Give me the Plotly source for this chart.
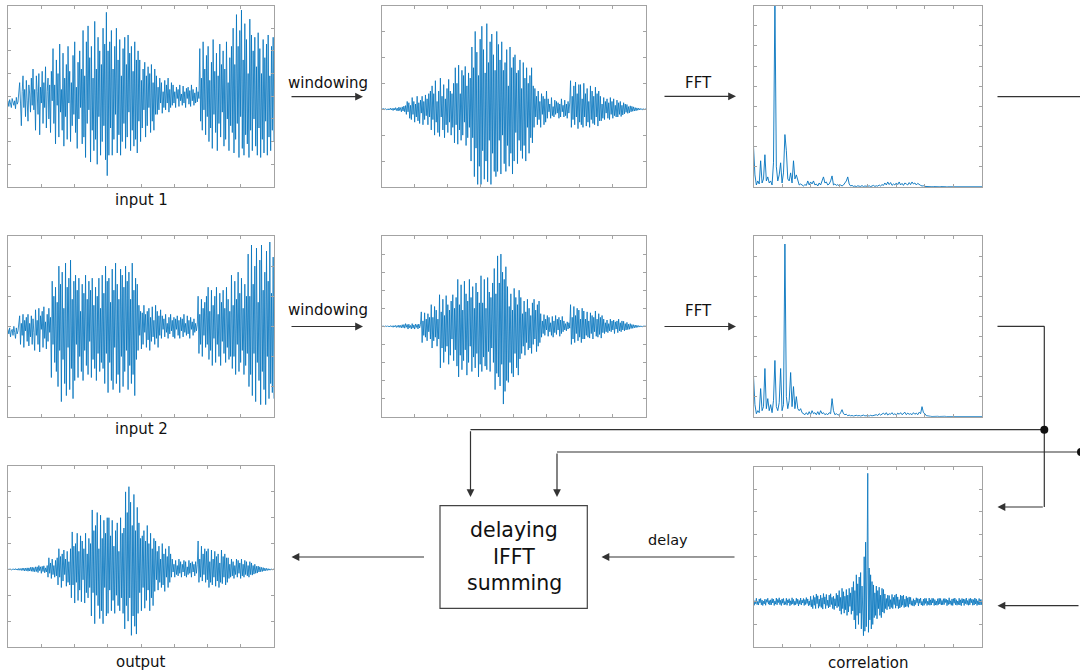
import numpy as np
import plotly.graph_objects as go

W, H = 1080, 671

# ---------------- data ----------------
input1 = [-0.2,-0.45,-0.15,-0.35,-0.5,-0.1,-0.3,-0.4,-0.2,-0.55,-0.05,-0.35,-0.25,0.1,
          0.6,-0.3,-1.3,0.2,0.9,-0.5,0.3,-0.9,0.7,-0.2,-1.1,0.5,0.1,-0.7,0.8,-0.4,
          1.2,-0.6,0.3,-1.5,0.9,0.2,-0.8,1.0,-1.7,0.4,-0.3,1.1,-1.2,0.6,-0.5,1.3,-1.4,0.2,0.8,-1.0,0.5,-1.6,1.1,-0.2,
          2.1,-1.2,0.5,-2.1,1.6,-0.4,1.0,-1.8,2.3,-0.7,0.3,-1.5,1.9,-2.2,0.8,-0.9,1.4,-1.9,2.2,-0.3,1.1,-2.0,0.6,-1.3,
          1.8,-0.8,2.4,-1.6,0.4,-2.3,1.5,-1.0,2.0,-0.5,1.2,-2.1,
          2.9,-1.8,0.9,-2.7,2.4,-1.2,3.1,-0.6,1.7,-2.9,2.2,-1.5,0.8,-2.4,3.3,-1.9,1.2,-3.0,2.6,-0.9,2.0,-2.6,1.4,-2.0,
          3.0,-1.3,2.3,-2.8,
          3.7,-3.5,2.0,-2.6,
          2.4,-1.4,2.9,-2.6,1.2,-1.9,2.2,-0.8,3.0,-2.5,1.6,-1.7,2.5,-2.6,0.9,-2.0,2.1,-1.2,2.6,-2.3,1.4,-1.8,2.7,-0.7,
          1.9,-2.4,2.2,-1.5,1.1,-2.2,2.4,-1.9,1.6,-2.5,2.0,-1.1,
          1.6,-2.0,0.7,-1.4,1.2,-0.6,1.5,-1.8,0.9,-1.3,1.3,-0.5,1.0,-1.6,1.4,-1.1,0.6,-1.5,1.2,-0.8,
          0.9,-0.8,0.4,-0.6,0.8,-0.3,0.6,-0.75,0.2,-0.5,0.7,-0.6,0.5,-0.3,0.8,-0.7,0.3,-0.5,0.6,-0.4,
          0.5,-0.3,0.2,-0.5,0.4,-0.1,0.3,-0.45,0.5,-0.2,0.1,-0.4,0.45,-0.3,0.2,-0.5,0.35,-0.1,0.4,-0.35,0.25,-0.45,
          0.5,-0.2,0.3,-0.4,0.15,-0.3,0.4,-0.25,0.2,-0.1,
          2.1,-1.1,0.8,-1.5,2.4,-0.6,1.2,-1.7,1.8,-0.9,2.2,-2.0,0.7,-1.4,1.5,-2.3,2.5,-0.8,1.1,-1.6,1.9,-2.4,0.9,-1.2,
          2.3,-1.8,1.4,-0.7,2.0,-2.2,1.2,-1.9,2.4,-1.0,0.6,-2.4,1.7,-1.3,2.2,-1.6,
          3.0,-2.5,1.4,-1.9,3.6,-1.2,2.2,-2.7,2.9,-0.9,3.8,-2.3,1.6,-2.6,3.2,-1.7,2.5,-2.1,1.0,-2.7,3.4,-1.5,2.7,-2.4,
          2.0,-1.0,
          2.6,-2.2,1.3,-2.6,2.8,-1.4,2.1,-2.7,1.0,-1.9,2.5,-2.5,1.7,-1.1,2.3,-2.6,2.7,-1.8,0.9,-2.4,2.2,-1.5,2.6,-2.0]

windowed1 = [0.0,0.01,-0.01,0.02,-0.01,0.02,-0.02,0.01,-0.03,0.02,-0.02,0.04,-0.03,0.03,-0.05,0.04,-0.03,0.06,
             -0.05,0.04,-0.07,0.08,-0.05,0.06,-0.1,0.09,-0.07,0.12,-0.1,0.14,
             -0.2,0.3,-0.1,0.25,-0.35,0.15,-0.4,0.45,-0.2,0.3,-0.5,0.2,-0.3,0.5,-0.45,0.25,-0.55,0.35,-0.15,0.5,
             -0.6,0.3,-0.4,0.55,-0.25,0.4,-0.6,0.6,-0.3,0.7,
             -0.8,0.9,-0.4,0.6,-1.0,1.1,-0.5,0.3,-0.9,0.7,-1.05,1.2,-0.3,0.5,-0.8,0.95,-1.1,0.4,-0.6,0.8,
             -0.9,1.15,-0.5,0.7,-1.0,0.6,-0.7,1.0,
             -1.3,1.6,-0.6,1.0,-1.35,1.7,-0.8,0.6,-1.2,1.5,-1.0,1.3,-0.5,1.65,-1.4,0.9,-1.1,1.4,-0.7,1.2,
             -2.0,2.4,-1.1,1.6,-2.6,3.0,-1.5,2.2,-2.9,1.3,-2.2,2.7,
             -2.9,3.2,-1.6,2.3,-2.7,1.4,-2.0,3.3,-2.8,1.8,-1.2,2.6,-2.9,2.9,-1.7,2.1,-2.4,1.5,-2.6,3.0,
             -2.4,2.5,-1.2,1.9,-2.5,2.6,-1.0,1.5,-2.1,1.8,-2.4,2.3,-1.4,0.9,-2.2,2.4,-1.7,1.6,-2.5,2.0,
             -2.0,2.1,-0.9,1.4,-2.1,1.5,-1.2,1.9,-1.6,0.8,-1.9,1.8,-1.4,1.2,-2.0,1.6,-0.7,1.0,-1.7,1.3,
             -1.1,1.6,-1.3,0.9,
             -0.7,0.8,-0.3,0.5,-0.6,0.7,-0.4,0.3,-0.7,0.6,-0.2,0.5,-0.6,0.4,-0.5,0.7,
             -0.35,0.4,-0.1,0.2,-0.35,0.45,-0.25,0.1,-0.3,0.35,-0.2,0.3,-0.15,0.25,-0.35,0.2,-0.3,0.4,-0.1,0.15,
             -0.3,0.35,-0.25,0.2,-0.35,0.3,-0.15,0.25,
             1.1,-0.7,0.5,-0.4,0.9,-0.6,1.05,-0.3,0.6,-0.75,0.95,-0.5,
             0.95,-0.6,0.4,-0.7,1.0,-0.3,0.6,-0.65,0.8,-0.5,0.3,-0.7,0.9,-0.4,0.7,-0.55,0.5,-0.6,0.85,-0.3,
             0.6,-0.65,0.7,-0.45,
             0.5,-0.45,0.2,-0.35,0.45,-0.4,0.3,-0.15,0.4,-0.35,0.25,-0.4,0.45,-0.2,0.3,-0.35,0.4,-0.25,0.15,-0.3,
             0.35,-0.3,0.25,-0.2,
             0.3,-0.28,0.15,-0.22,0.25,-0.18,0.2,-0.12,0.18,-0.16,0.1,-0.14,0.13,-0.1,0.11,-0.08,0.09,-0.07,0.06,-0.06,
             0.05,-0.04,0.04,-0.03,0.03,-0.02,0.02,-0.02,0.01,-0.01,0.01,0.0]

fft1 = [2.0,0.6,0.1,0.3,0.15,1.3,0.2,0.4,1.6,0.3,
        0.5,0.2,0.3,0.1,1.2,9.3,1.0,0.3,0.6,1.2,
        0.2,0.7,2.6,1.8,0.4,0.3,0.7,0.2,1.3,0.4,
        0.6,0.3,0.1,0.15,0.1,0.05,0.12,0.08,0.3,0.1,
        0.25,0.15,0.3,0.1,0.15,0.05,0.2,0.1,0.3,0.5,
        0.2,0.25,0.1,0.15,0.3,0.55,0.1,0.15,0.08,0.12,
        0.05,0.1,0.05,0.1,0.2,0.3,0.5,0.15,0.05,0.08,
        0.03,0.05,0.02,0.06,0.04,0.03,0.07,0.02,0.05,0.04,
        0.03,0.06,0.02,0.05,0.08,0.03,0.06,0.04,0.1,0.05,
        0.12,0.08,0.2,0.1,0.25,0.12,0.22,0.08,0.15,0.1,
        0.2,0.12,0.25,0.1,0.18,0.08,0.2,0.15,0.1,0.22,
        0.12,0.25,0.15,0.2,0.1,0.18,0.12,0.08,0.05,0.06,
        0.03,0.02,0.02,0.01,0.02,0.01,0.02,0.01,0.01,0.02,
        0.01,0.02,0.01,0.01,0.02,0.01,0.01,0.01,0.02,0.01,
        0.01,0.01,0.02,0.01,0.01,0.01,0.01,0.02,0.01,0.01,
        0.01,0.01,0.01,0.02,0.01,0.01,0.01,0.01,0.01,0.01,
        0.01]

input2 = [-0.1,-0.25,-0.05,-0.35,-0.15,-0.1,-0.3,0.0,-0.2,-0.4,-0.05,-0.25,-0.15,0.05,
          0.35,-0.6,0.1,-0.3,0.4,-0.7,0.2,-0.15,0.3,-0.5,0.4,-0.65,0.1,-0.35,0.35,-0.6,0.25,-0.2,
          -0.8,0.55,-0.3,0.2,-0.6,0.6,-0.85,0.35,-0.1,0.5,-0.7,0.65,-0.4,0.15,-0.75,0.4,-0.5,0.6,-0.2,0.3,
          -1.7,1.5,-0.6,1.0,-1.2,1.3,-1.5,0.8,
          -2.0,2.0,-0.8,1.4,-2.5,1.8,-1.1,0.6,-1.9,2.1,-2.3,1.3,-0.7,1.6,-2.1,2.2,-1.4,0.9,-2.4,1.5,
          -1.8,1.7,-0.6,1.2,-1.7,1.6,-1.0,0.5,-1.5,1.4,-1.8,1.1,-0.8,1.7,-1.3,0.9,-1.6,1.5,-0.5,1.2,
          -1.7,1.6,-1.1,0.7,-1.4,1.3,-1.8,1.0,-0.9,1.6,-1.5,0.6,-1.2,1.7,-1.4,1.1,
          -1.9,2.0,-0.9,1.5,-2.2,1.6,-1.2,0.8,-1.8,1.9,-2.1,1.2,-0.7,2.1,-1.9,1.4,-1.6,0.9,-2.2,1.9,
          -1.0,1.7,-2.0,1.3,-1.5,2.0,-0.8,1.5,-2.1,1.8,-1.3,0.9,-1.9,2.1,-1.6,1.2,-2.3,1.6,-1.1,1.4,
          -0.8,0.7,-0.3,0.5,-0.75,0.45,-0.6,0.7,-0.2,0.4,-0.7,0.5,-0.45,0.6,-0.8,0.3,-0.5,0.65,-0.35,0.2,
          -0.6,0.7,-0.4,0.5,-0.7,0.35,-0.3,0.55,
          -0.4,0.35,-0.1,0.25,-0.35,0.4,-0.2,0.1,-0.4,0.3,-0.25,0.4,-0.15,0.2,-0.35,0.3,-0.4,0.25,-0.1,0.35,
          -0.3,0.2,-0.4,0.3,-0.15,0.25,-0.35,0.4,-0.2,0.1,-0.3,0.35,-0.25,0.2,-0.4,0.3,-0.1,0.15,-0.3,0.25,
          -0.2,0.1,-0.15,0.05,
          1.0,-0.9,0.4,-0.6,0.9,-1.0,0.6,-0.3,0.8,-0.7,1.0,-0.6,
          1.3,-1.1,0.5,-0.8,1.2,-1.3,0.7,-0.4,1.0,-1.2,1.3,-0.6,0.4,-1.0,1.1,-1.3,0.8,-0.5,1.2,-0.9,
          0.6,-1.2,1.3,-0.7,0.9,-1.1,0.5,-1.0,
          1.7,-1.4,0.7,-1.0,1.5,-1.6,0.9,-0.6,1.8,-1.5,1.1,-1.2,1.6,-0.8,0.6,-1.6,1.4,-1.3,1.0,-0.9,
          2.4,-2.0,1.0,-1.6,2.7,-2.3,1.4,-0.9,2.0,-2.5,2.6,-1.2,0.8,-1.8,2.2,-2.6,2.7,-1.5,1.2,-2.1,
          1.8,-2.6,2.5,-1.0,1.5,-2.4,2.8,-1.9,1.1,-2.2,2.3,-2.4]

windowed2 = [0.0,0.01,-0.01,0.01,-0.02,0.02,-0.01,0.03,-0.02,0.02,-0.03,0.04,-0.02,0.03,-0.05,0.04,-0.03,0.05,
             -0.06,0.04,-0.05,0.07,-0.06,0.05,-0.08,0.09,-0.07,0.1,
             -0.1,0.15,-0.05,0.1,-0.15,0.12,-0.08,0.05,-0.14,0.15,-0.1,0.08,-0.15,0.12,-0.06,0.1,-0.14,0.13,-0.09,0.1,
             0.8,-0.9,0.3,-0.5,0.75,-0.6,0.4,-0.8,0.7,-0.3,0.5,-0.7,
             1.2,-1.2,0.5,-0.8,1.1,-0.6,0.9,-1.1,0.4,-0.7,
             1.75,-2.3,0.8,-1.2,1.5,-2.0,0.6,-1.4,1.7,-1.1,1.2,-2.1,0.9,-1.6,1.4,-0.7,1.75,-1.9,1.0,-1.3,1.6,-2.2,
             2.6,-2.8,1.2,-1.6,2.3,-2.4,0.9,-1.9,2.5,-1.3,1.8,-2.7,1.4,-2.0,2.6,-1.1,1.6,-2.5,2.2,-1.7,
             1.0,-2.3,2.4,-1.5,1.9,-2.8,1.3,-2.1,
             2.8,-2.5,1.3,-1.7,2.6,-2.2,1.0,-2.4,2.7,-1.4,1.9,-2.5,1.6,-1.2,2.4,-2.0,
             3.2,-3.5,1.8,-2.6,3.9,-2.8,2.4,-3.3,4.0,-2.1,3.0,-4.3,2.6,-3.6,3.3,-3.0,
             2.2,-3.1,1.1,-2.0,1.8,-2.6,0.9,-2.8,2.1,-1.5,1.6,-2.3,1.2,-2.7,2.0,-1.8,
             1.6,-1.5,0.7,-1.1,1.4,-1.6,0.8,-0.9,1.5,-1.3,1.0,-1.2,0.6,-1.5,1.3,-1.0,1.5,-0.7,0.9,-1.4,
             1.2,-1.1,1.4,-0.9,
             0.7,-0.6,0.3,-0.4,0.65,-0.5,0.4,-0.2,0.6,-0.55,0.5,-0.3,0.2,-0.5,0.55,-0.6,0.3,-0.35,0.6,-0.45,
             0.4,-0.2,0.5,-0.55,0.35,-0.4,0.55,-0.3,
             0.3,-0.2,0.15,-0.25,0.25,-0.15,0.2,-0.1,
             1.2,-1.0,0.5,-0.7,1.1,-0.9,0.6,-0.4,1.0,-0.8,0.9,-0.6,0.4,-0.9,1.0,-0.7,
             0.85,-0.7,0.4,-0.5,0.8,-0.6,0.3,-0.65,0.75,-0.4,0.6,-0.7,0.5,-0.3,0.85,-0.55,0.4,-0.6,0.7,-0.45,
             0.5,-0.65,0.6,-0.35,
             0.4,-0.4,0.2,-0.3,0.35,-0.35,0.15,-0.25,0.4,-0.3,0.3,-0.2,0.35,-0.4,0.25,-0.15,0.3,-0.35,0.4,-0.25,
             0.2,-0.3,0.3,-0.2,
             0.28,-0.25,0.15,-0.2,0.22,-0.18,0.12,-0.16,0.15,-0.12,0.1,-0.11,0.09,-0.08,0.07,-0.07,0.06,-0.05,
             0.04,-0.04,0.03,-0.03,0.02,-0.02,0.01,-0.01,0.01,0.0]

fft2 = [2.0,0.6,0.15,0.3,0.2,1.4,0.3,0.5,2.4,0.4,
        0.9,0.3,0.6,0.2,0.8,2.8,0.5,0.3,0.7,2.4,
        0.3,0.6,8.6,1.0,0.4,0.8,2.2,0.5,1.5,0.4,
        1.0,0.4,0.3,0.4,0.2,0.15,0.1,0.2,0.1,0.25,
        0.1,0.3,0.15,0.2,0.1,0.25,0.1,0.3,0.15,0.2,
        0.1,0.15,0.1,0.2,0.15,0.9,0.3,0.1,0.15,0.1,
        0.08,0.2,0.35,0.15,0.1,0.12,0.05,0.08,0.04,0.06,
        0.03,0.05,0.07,0.04,0.06,0.03,0.05,0.08,0.04,0.06,
        0.05,0.03,0.07,0.04,0.06,0.05,0.1,0.06,0.15,0.08,
        0.12,0.18,0.1,0.2,0.08,0.15,0.12,0.2,0.1,0.15,
        0.08,0.18,0.12,0.2,0.1,0.15,0.22,0.1,0.18,0.12,
        0.15,0.1,0.2,0.12,0.18,0.1,0.22,0.15,0.5,0.2,
        0.15,0.05,0.03,0.02,0.02,0.01,0.02,0.01,0.01,0.02,
        0.01,0.02,0.01,0.01,0.02,0.01,0.01,0.01,0.02,0.01,
        0.01,0.01,0.02,0.01,0.01,0.01,0.01,0.02,0.01,0.01,
        0.01,0.01,0.01,0.02,0.01,0.01,0.01,0.01,0.01,0.01,
        0.01]

output = [0.0,0.01,-0.01,0.01,-0.02,0.01,-0.01,0.02,-0.02,0.03,-0.02,0.02,-0.03,0.04,-0.03,0.03,-0.04,0.05,
          -0.04,0.05,-0.06,0.05,-0.05,0.06,-0.07,0.06,-0.06,0.08,-0.07,0.09,-0.08,0.07,-0.09,0.1,-0.08,0.1,
          -0.12,0.15,-0.05,0.1,-0.15,0.12,-0.08,0.14,-0.13,0.06,-0.1,0.15,
          -0.3,0.45,-0.15,0.25,-0.35,0.4,-0.2,0.15,-0.3,0.35,-0.25,0.45,
          -0.6,0.8,-0.3,0.5,-0.7,0.6,-0.45,0.75,-0.2,0.4,-0.65,0.7,-0.5,0.3,-0.6,0.8,
          -1.1,1.45,-0.6,0.9,-1.3,1.0,-0.5,1.4,-1.2,0.7,-0.8,1.3,-1.25,1.1,-0.4,0.8,-1.3,1.4,-0.9,0.6,
          -1.1,1.2,-0.7,1.0,
          -1.8,2.3,-0.9,1.5,-2.1,1.7,-1.0,2.2,-1.4,0.8,-1.9,2.1,-1.6,1.2,-2.1,1.9,-0.7,1.4,-1.8,2.0,
          -1.7,2.0,-0.8,1.3,-1.6,1.9,-1.2,0.9,-1.7,1.5,-1.0,1.8,-1.4,0.7,-1.6,2.0,-1.1,1.4,-1.7,1.6,
          -2.3,3.0,-1.4,2.2,-2.0,3.2,-1.1,2.6,-2.55,1.7,-1.8,2.9,-2.2,1.5,-2.5,2.4,
          -1.7,1.8,-0.9,1.2,-1.6,1.3,-0.7,1.5,-1.5,1.1,-1.2,1.7,-0.8,1.0,-1.6,1.4,-1.1,0.8,-1.4,1.2,
          -0.85,1.1,-0.4,0.7,-0.8,0.9,-0.5,0.4,-0.7,1.0,-0.6,0.6,-0.85,0.8,-0.3,0.5,-0.7,0.9,-0.5,0.6,
          -0.3,0.4,-0.1,0.2,-0.3,0.35,-0.2,0.15,-0.25,0.4,-0.15,0.3,-0.3,0.2,-0.1,0.35,-0.25,0.3,-0.3,0.1,
          -0.2,0.35,-0.15,0.25,-0.3,0.3,-0.1,0.2,-0.25,0.3,-0.15,0.2,
          1.1,-0.5,0.4,-0.3,0.9,-0.45,0.6,-0.2,0.8,-0.5,0.7,-0.4,
          0.8,-0.7,0.3,-0.5,0.75,-0.6,0.4,-0.3,0.7,-0.65,0.5,-0.45,0.6,-0.7,0.25,-0.5,0.75,-0.55,0.5,-0.3,
          0.6,-0.6,0.45,-0.5,
          0.45,-0.35,0.2,-0.3,0.4,-0.25,0.3,-0.35,0.15,-0.2,0.4,-0.3,0.35,-0.15,0.25,-0.35,0.4,-0.25,0.2,-0.3,
          0.35,-0.2,0.3,-0.25,0.15,-0.3,0.3,-0.2,
          0.25,-0.22,0.15,-0.18,0.2,-0.15,0.12,-0.14,0.13,-0.1,0.1,-0.09,0.08,-0.08,0.07,-0.06,0.05,-0.05,
          0.04,-0.04,0.03,-0.03,0.02,-0.02,0.01,-0.01,0.01,0.0]

correlation = [0.12,-0.15,0.05,-0.08,0.16,-0.12,0.02,-0.14,0.13,-0.04,0.15,-0.13,0.08,-0.16,0.03,-0.09,0.12,-0.15,0.1,-0.02,
               0.16,-0.1,0.06,-0.14,0.09,-0.13,0.15,-0.05,0.12,-0.16,0.04,-0.1,0.17,-0.13,0.11,-0.03,0.18,-0.12,0.07,-0.16,
               0.13,-0.06,0.15,-0.14,0.02,-0.11,0.16,-0.15,0.09,-0.04,0.14,-0.17,0.05,-0.12,0.18,-0.09,0.11,-0.15,0.03,-0.13,
               0.16,-0.08,0.12,-0.18,0.06,-0.1,0.17,-0.14,0.08,-0.05,0.15,-0.16,0.1,-0.12,0.19,-0.07,0.13,-0.17,0.04,-0.15,
               0.25,-0.22,0.1,-0.3,0.28,-0.15,0.2,-0.3,0.35,-0.08,0.27,-0.28,0.12,-0.2,0.3,-0.25,0.18,-0.32,0.37,-0.1,
               0.22,-0.3,0.33,-0.16,0.08,-0.27,0.3,-0.22,0.36,-0.12,0.2,-0.3,0.25,-0.34,0.14,-0.18,0.38,-0.26,0.3,-0.2,
               0.5,-0.4,0.2,-0.55,0.6,-0.3,0.45,-0.5,0.25,-0.35,0.55,-0.6,0.3,-0.45,0.6,-0.2,0.4,-0.55,0.65,-0.4,
               0.9,-0.8,0.5,-1.2,1.2,-0.6,0.8,-1.0,1.1,-0.5,1.3,-1.2,0.7,-0.9,
               -1.5,2.0,-1.3,2.65,-1.1,1.4,
               5.7,
               -1.35,1.5,-0.8,1.2,-1.2,0.9,-1.0,
               0.75,-0.7,0.4,-0.6,0.7,-0.75,0.5,-0.3,0.65,-0.6,0.3,-0.7,0.6,-0.45,0.55,-0.5,
               0.35,-0.3,0.15,-0.35,0.3,-0.2,0.28,-0.32,0.1,-0.25,0.33,-0.3,0.2,-0.12,0.3,-0.28,0.35,-0.18,0.22,-0.3,
               0.1,-0.27,0.3,-0.22,0.26,-0.15,0.3,-0.25,0.12,-0.22,0.25,-0.2,0.18,-0.24,0.22,-0.1,
               0.2,-0.15,0.05,-0.17,0.14,-0.19,0.08,-0.12,0.18,-0.04,0.15,-0.18,0.13,-0.06,0.17,-0.14,0.02,-0.17,0.12,-0.15,
               0.16,-0.07,0.15,-0.16,0.03,-0.12,0.17,-0.15,0.09,-0.14,0.16,-0.05,0.15,-0.16,0.1,-0.14,0.04,-0.15,0.14,-0.12,
               0.16,-0.09,0.15,-0.14,0.06,-0.13,0.14,-0.12,0.15,-0.03,0.12,-0.17,0.08,-0.12,0.18,-0.1,0.05,-0.15,0.13,-0.16,
               0.14,-0.06,0.17,-0.13,0.1,-0.15,0.04,-0.12,0.16,-0.14,0.09,-0.17,0.15,-0.05,0.13,-0.16,0.11,-0.08,0.17,-0.12,
               0.06,-0.15,0.14,-0.13,0.16,-0.04,0.12,-0.15,0.1,-0.14,0.17,-0.09,0.13,-0.16,0.05,-0.12,0.15,-0.14,0.1,-0.13,
               0.12]

labels = ["input 1", "input 2", "output", "correlation"]
step_labels = ["windowing", "FFT", "delay"]
box_lines = ["delaying", "IFFT", "summing"]

# ---------------- layout helpers ----------------
def X(p):
    return p / W

def Y(p):
    return 1 - p / H

BLUE = "#0072BD"
AX = "#a3a3a3"
INK = "#333333"
FONT = "DejaVu Sans"

panels = [
    (input1,      (8, 274, 5.5, 187),       (-4, 4), 0.8),
    (windowed1,   (381.5, 646, 5.5, 187),   (-3, 4), 0.8),
    (fft1,        (753.5, 982, 5.5, 187),   (0, 9),  0.9),
    (input2,      (8, 274, 236, 416.7),     (-3, 3), 0.8),
    (windowed2,   (381.5, 646, 236, 416.7), (-5, 5), 0.8),
    (fft2,        (753.5, 982, 236, 416.7), (0, 9),  0.9),
    (output,      (8, 274, 466, 647),       (-3, 4), 0.8),
    (correlation, (753.5, 982, 466.5, 647), (-2, 6), 0.8),
]

fig = go.Figure()
layout = {}
common = dict(showgrid=False, zeroline=False, showticklabels=False,
              ticks="inside", ticklen=3, tickwidth=1, tickcolor=AX,
              showline=True, linecolor=AX, linewidth=1, mirror="ticks",
              dtick=1, tick0=0, fixedrange=True)

for k, (vals, (x0, x1, y0, y1), yr, lw) in enumerate(panels, start=1):
    sx = "" if k == 1 else str(k)
    xs = np.linspace(0, 8, len(vals))
    fig.add_trace(go.Scatter(x=xs, y=vals, mode="lines",
                             line=dict(color=BLUE, width=lw),
                             xaxis="x" + sx, yaxis="y" + sx,
                             showlegend=False, hoverinfo="skip"))
    layout["xaxis" + sx] = dict(domain=[X(x0), X(x1)], range=[0, 8],
                                anchor="y" + sx, **common)
    layout["yaxis" + sx] = dict(domain=[Y(y1), Y(y0)], range=list(yr),
                                anchor="x" + sx, **common)

fig.update_layout(**layout)

# ---------------- text ----------------
def text(s, x, y, size=15):
    fig.add_annotation(x=X(x), y=Y(y), xref="paper", yref="paper", text=s,
                       showarrow=False, xanchor="center", yanchor="middle",
                       font=dict(family=FONT, size=size, color="#111111"))

text(labels[0], 141, 200)
text(labels[1], 141, 428.5)
text(labels[2], 141, 661.5)
text(labels[3], 868, 662.5)
text(step_labels[0], 328, 82.5)
text(step_labels[0], 328, 310.5)
text(step_labels[1], 698, 83)
text(step_labels[1], 698, 311)
text(step_labels[2], 668, 540, 14.5)
text(box_lines[0], 514, 529.5, 20.5)
text(box_lines[1], 514, 556.5, 20.5)
text(box_lines[2], 514, 583, 20.5)

# ---------------- connectors ----------------
def arrow(xt, yt, xh, yh):
    fig.add_annotation(x=X(xh), y=Y(yh), xref="paper", yref="paper",
                       ax=xt - xh, ay=yt - yh, axref="pixel", ayref="pixel",
                       showarrow=True, arrowhead=2, arrowsize=1.3,
                       arrowwidth=1.2, arrowcolor=INK, text="")

def seg(xa, ya, xb, yb):
    fig.add_shape(type="line", xref="paper", yref="paper",
                  x0=X(xa), y0=Y(ya), x1=X(xb), y1=Y(yb),
                  line=dict(color=INK, width=1.2))

def dot(x, y, r=4):
    fig.add_shape(type="circle", xref="paper", yref="paper",
                  xsizemode="pixel", ysizemode="pixel",
                  xanchor=X(x), yanchor=Y(y), x0=-r, x1=r, y0=-r, y1=r,
                  fillcolor="#111111", line=dict(color="#111111", width=0))

# row 1
arrow(290, 96.7, 363, 96.7)
arrow(663, 96.3, 736, 96.3)
seg(997.5, 96.7, 1080, 96.7)
# row 2
arrow(290, 326.5, 363, 326.5)
arrow(663, 326.5, 736, 326.5)
seg(997.5, 326.3, 1044.3, 326.3)
seg(1044.3, 326.3, 1044.3, 507)
arrow(1044.3, 507, 997.5, 507)
# feeds to the box
seg(470.5, 429.7, 1044.3, 429.7)
arrow(470.5, 429.7, 470.5, 497)
seg(557, 452, 1081, 452)
arrow(557, 452, 557, 497)
dot(1044.3, 429.7)
dot(1081, 452)
# correlation input
arrow(1080, 605.7, 997.5, 605.7)
# delay and output
arrow(736, 557, 601.5, 557)
arrow(425.5, 557, 291.5, 557)
# box
fig.add_shape(type="rect", xref="paper", yref="paper",
              x0=X(440), x1=X(587.3), y0=Y(608.3), y1=Y(505.7),
              line=dict(color="#444444", width=1.2), fillcolor="rgba(0,0,0,0)")

fig.update_layout(width=W, height=H, margin=dict(l=0, r=0, t=0, b=0),
                  paper_bgcolor="white", plot_bgcolor="white",
                  showlegend=False)

fig.write_html("out.html", config={"displayModeBar": False})
